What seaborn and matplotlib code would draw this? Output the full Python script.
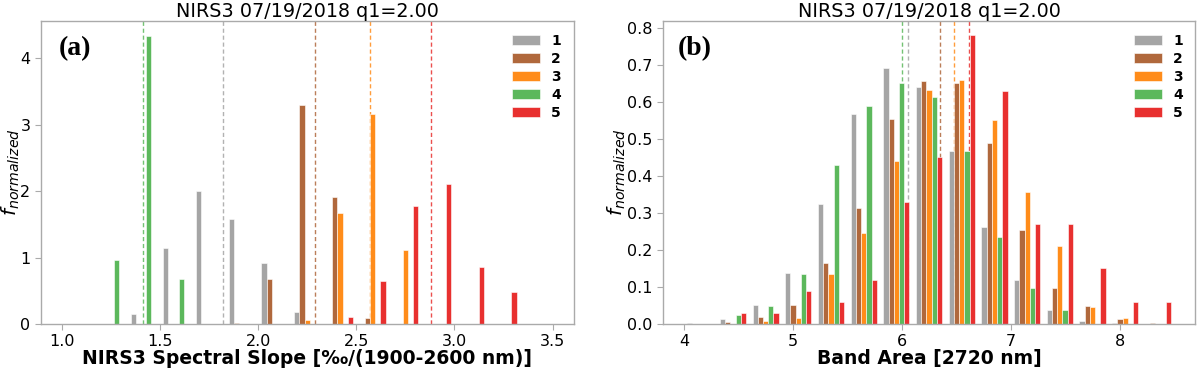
import numpy as np
import pandas as pd
import seaborn as sns
import matplotlib.pyplot as plt

# --- data (normalized histogram heights) ---
groups = ['1', '2', '3', '4', '5']
colors = ['#a5a5a5', '#b0683c', '#ff8c1a', '#5cb85c', '#e8302f']

# panel (a): spectral slope, 15 bins from 1.0 to 3.5
slope_edges = np.linspace(1.0, 3.5, 16)
slope_g1 = [0, 0, 0.155, 1.15, 2.0, 1.575, 0.92, 0.18, 0, 0, 0, 0, 0, 0, 0]
slope_g2 = [0, 0, 0, 0, 0, 0.02, 0.68, 3.29, 1.91, 0.085, 0, 0, 0, 0, 0]
slope_g3 = [0, 0, 0, 0, 0, 0, 0, 0.06, 1.67, 3.16, 1.11, 0, 0, 0, 0]
slope_g4 = [0, 0.97, 4.34, 0.68, 0, 0, 0, 0, 0, 0, 0, 0, 0, 0, 0]
slope_g5 = [0, 0, 0, 0, 0, 0, 0, 0, 0.105, 0.64, 1.78, 2.11, 0.86, 0.48, 0]
slope_means = [1.822, 2.292, 2.569, 1.414, 2.880]

# panel (b): band area, 15 bins from 4.0 to 8.5
area_edges = np.linspace(4.0, 8.5, 16)
area_g1 = [0.002, 0.0135, 0.052, 0.138, 0.323, 0.567, 0.691, 0.639, 0.468, 0.261, 0.118, 0.038, 0.007, 0.002, 0]
area_g2 = [0, 0.006, 0.02, 0.05, 0.165, 0.312, 0.554, 0.657, 0.652, 0.49, 0.255, 0.096, 0.048, 0.014, 0.002]
area_g3 = [0, 0, 0.007, 0.017, 0.136, 0.247, 0.44, 0.632, 0.66, 0.55, 0.357, 0.211, 0.045, 0.017, 0]
area_g4 = [0, 0.023, 0.048, 0.134, 0.429, 0.589, 0.65, 0.614, 0.466, 0.234, 0.097, 0.037, 0, 0, 0]
area_g5 = [0, 0.03, 0.03, 0.088, 0.059, 0.12, 0.329, 0.45, 0.779, 0.63, 0.269, 0.269, 0.15, 0.059, 0.059]
area_means = [6.056, 6.354, 6.477, 6.003, 6.618]

title = "NIRS3 07/19/2018 q1=2.00"


def long_table(edges, series):
    centers = (edges[:-1] + edges[1:]) / 2
    rows = []
    for g, vals in zip(groups, series):
        for c, v in zip(centers, vals):
            rows.append({'x': c, 'f': v, 'group': g})
    return pd.DataFrame(rows)


df_a = long_table(slope_edges, [slope_g1, slope_g2, slope_g3, slope_g4, slope_g5])
df_b = long_table(area_edges, [area_g1, area_g2, area_g3, area_g4, area_g5])

sns.set_style("ticks")
plt.rcParams.update({
    'axes.edgecolor': '#aaaaaa',
    'axes.linewidth': 1.0,
    'axes.labelcolor': 'black',
    'text.color': 'black',
    'xtick.color': '#aaaaaa',
    'ytick.color': '#aaaaaa',
    'xtick.labelcolor': 'black',
    'ytick.labelcolor': 'black',
    'xtick.major.size': 4,
    'ytick.major.size': 4,
    'xtick.labelsize': 11.5,
    'ytick.labelsize': 11.5,
})
plt.rcParams['font.family'] = ['DejaVu Sans']

fig = plt.figure(figsize=(12, 3.69), dpi=100)
ax_a = fig.add_axes([0.034, 0.122, 0.444, 0.821])
ax_b = fig.add_axes([0.5525, 0.122, 0.4435, 0.821])

panels = [
    (ax_a, df_a, slope_means, (0.893, 3.607), (0, 4.56), "(a)", 0.034, -0.036,
     "NIRS3 Spectral Slope [‰/(1900-2600 nm)]"),
    (ax_b, df_b, area_means, (3.808, 8.692), (0, 0.818), "(b)", 0.027, -0.066,
     "Band Area [2720 nm]"),
]

for ax, df, means, xlim, ylim, tag, tag_x, ylab_x, xlabel in panels:
    for m, c in zip(means, colors):
        ax.axvline(m, color=c, lw=1, ls=(0, (3, 2)), alpha=0.85, zorder=0.5)
    sns.barplot(
        data=df, x='x', y='f', hue='group',
        hue_order=groups, palette=colors,
        native_scale=True, width=0.8, errorbar=None, saturation=1,
        edgecolor='white', linewidth=0.4, ax=ax
    )
    ax.set_xlim(*xlim)
    ax.set_ylim(*ylim)
    ax.set_title(title, fontsize=13.8, pad=3, color='black')
    ax.set_xlabel(xlabel, fontsize=13.5, fontweight='bold', labelpad=0)
    ax.set_ylabel("$f_{normalized}$", fontsize=14.5)
    ax.yaxis.set_label_coords(ylab_x, 0.5)
    ax.text(tag_x, 0.91, tag, transform=ax.transAxes, family='Liberation Serif',
            fontweight='bold', fontsize=20, ha='left', va='center')
    sns.move_legend(ax, "upper right", title=None, frameon=False,
                    labelspacing=0.3, labelcolor='black',
                    prop={'weight': 'bold', 'size': 10})

ax_a.set_xticks([1.0, 1.5, 2.0, 2.5, 3.0, 3.5])
ax_a.set_xticklabels(['1.0', '1.5', '2.0', '2.5', '3.0', '3.5'])
ax_a.set_yticks([0, 1, 2, 3, 4])
ax_b.set_xticks([4, 5, 6, 7, 8])
ax_b.set_yticks([0.0, 0.1, 0.2, 0.3, 0.4, 0.5, 0.6, 0.7, 0.8])

fig.savefig("out.png", dpi=100)
